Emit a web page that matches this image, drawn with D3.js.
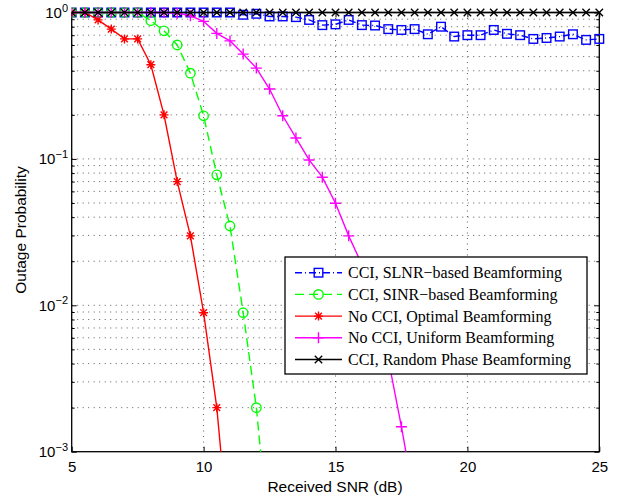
<!DOCTYPE html>
<html>
<head>
<meta charset="utf-8">
<script src="https://cdn.jsdelivr.net/npm/d3@7"></script>
<style>
  html, body { margin: 0; padding: 0; background: #fff; }
  svg { display: block; }
</style>
</head>
<body>
<svg id="chart" width="623" height="497"></svg>
<script>
// Received SNR grid (dB)
const snrAll = [5,5.5,6,6.5,7,7.5,8,8.5,9,9.5,10,10.5,11,11.5,12,12.5,13,13.5,14,14.5,15,
  15.5,16,16.5,17,17.5,18,18.5,19,19.5,20,20.5,21,21.5,22,22.5,23,23.5,24,24.5,25];

// CCI, SLNR-based beamforming
const slnr = [1,1,1,1,1,1,1,1,1,1,1,1,1,0.965,0.98,0.94,0.94,0.93,0.89,0.82,0.83,
  0.89,0.82,0.815,0.77,0.76,0.77,0.71,0.80,0.685,0.70,0.70,0.76,0.715,0.70,0.66,0.67,0.685,0.71,0.65,0.66];

// CCI, SINR-based beamforming
const sinrSnr = [5,5.5,6,6.5,7,7.5,8,8.5,9,9.5,10,10.5,11,11.5,12,12.5];
const sinr = [1,1,1,1,1,1,0.88,0.75,0.60,0.385,0.197,0.0778,0.0348,0.0089,0.0020,0.00023];

// No CCI, optimal beamforming
const optSnr = [5,5.5,6,6.5,7,7.5,8,8.5,9,9.5,10,10.5,11];
const optimal = [1,1,0.89,0.77,0.66,0.66,0.44,0.20,0.070,0.0298,0.0089,0.0020,0.00021];

// No CCI, uniform beamforming
const uniSnr = [5,5.5,6,6.5,7,7.5,8,8.5,9,9.5,10,10.5,11,11.5,12,12.5,13,13.5,14,14.5,15,15.5,16,16.5,17,17.5,18];
const uniform = [1,1,1,1,1,1,1,1,0.99,0.95,0.87,0.72,0.64,0.52,0.417,0.30,0.197,0.139,0.0984,0.075,
  0.0498,0.0298,0.019,0.0092,0.0043,0.00148,0.00046];

// CCI, random phase beamforming
const randomPhase = snrAll.map(() => 1);

const xTicks = [5,10,15,20,25];
const yTickExp = [0,-1,-2,-3];
const legendLabels = [
  "CCI, SLNR\u2212based Beamforming",
  "CCI, SINR\u2212based Beamforming",
  "No CCI, Optimal Beamforming",
  "No CCI, Uniform Beamforming",
  "CCI, Random Phase Beamforming"
];

const series = [
  {x: snrAll, y: slnr, color: "#0000ff", dash: "7,3,1,3", marker: "square", label: legendLabels[0]},
  {x: sinrSnr, y: sinr, color: "#00ff00", dash: "9,5", marker: "circle", label: legendLabels[1]},
  {x: optSnr, y: optimal, color: "#ff0000", dash: null, marker: "star", label: legendLabels[2]},
  {x: uniSnr, y: uniform, color: "#ff00ff", dash: null, marker: "plus", label: legendLabels[3]},
  {x: snrAll, y: randomPhase, color: "#000000", dash: null, marker: "cross", label: legendLabels[4]}
];

const sans = "Liberation Sans, Arial, Helvetica, sans-serif";
const serif = "Liberation Serif, Times New Roman, serif";

const svg = d3.select("#chart");
const L = 71.7, R = 599.3, T = 12.5, B = 451.7;

const x = d3.scaleLinear().domain([5, 25]).range([L, R]);
const y = d3.scaleLog().domain([1e-3, 1]).range([B, T]);

svg.append("defs").append("clipPath").attr("id", "plotClip")
  .append("rect").attr("x", L).attr("y", T - 6).attr("width", R - L + 6).attr("height", B - T + 6);

// dotted grid: every decade subdivision on y, major ticks on x
const grid = svg.append("g").attr("stroke", "#333").attr("stroke-width", 0.8)
  .attr("stroke-dasharray", "1,4.5").attr("fill", "none");
const yGridVals = [];
for (let e = -3; e < 0; e++) for (let m = 1; m <= 9; m++) {
  const v = m * Math.pow(10, e);
  if (v > 1e-3) yGridVals.push(v);
}
yGridVals.forEach(v => {
  grid.append("line").attr("x1", L).attr("x2", R).attr("y1", y(v)).attr("y2", y(v));
});
xTicks.slice(1, -1).forEach(v => {
  grid.append("line").attr("x1", x(v)).attr("x2", x(v)).attr("y1", T).attr("y2", B);
});

// axes (ticks inside, mirrored on opposite sides)
const axisG = svg.append("g");
const bottomAxis = axisG.append("g").attr("transform", `translate(0,${B})`)
  .call(d3.axisBottom(x).tickValues(xTicks).tickSizeInner(-5).tickSizeOuter(0).tickPadding(10));
axisG.append("g").attr("transform", `translate(0,${T})`)
  .call(d3.axisTop(x).tickValues(xTicks).tickSizeInner(-5).tickSizeOuter(0).tickFormat(""));
const minorY = yGridVals.filter(v => Math.abs(Math.log10(v) - Math.round(Math.log10(v))) > 1e-6);
const majorY = yTickExp.map(e => Math.pow(10, e));
axisG.append("g").attr("transform", `translate(${L},0)`)
  .call(d3.axisLeft(y).tickValues(majorY).tickSizeInner(-5).tickSizeOuter(0).tickFormat(""));
axisG.append("g").attr("transform", `translate(${L},0)`)
  .call(d3.axisLeft(y).tickValues(minorY).tickSizeInner(-3).tickSizeOuter(0).tickFormat(""));
axisG.append("g").attr("transform", `translate(${R},0)`)
  .call(d3.axisRight(y).tickValues(majorY).tickSizeInner(-5).tickSizeOuter(0).tickFormat(""));
axisG.append("g").attr("transform", `translate(${R},0)`)
  .call(d3.axisRight(y).tickValues(minorY).tickSizeInner(-3).tickSizeOuter(0).tickFormat(""));
axisG.selectAll(".domain").remove();
axisG.selectAll(".tick line").attr("stroke", "#000").attr("stroke-width", 1);
bottomAxis.selectAll(".tick text").attr("font-family", sans)
  .attr("font-size", 15).attr("fill", "#000");

// y tick labels as powers of ten
const yLab = svg.append("g").attr("font-family", sans).attr("fill", "#000");
yTickExp.forEach(e => {
  const t = yLab.append("text").attr("x", 68).attr("y", y(Math.pow(10, e)) + 5.5)
    .attr("text-anchor", "end").attr("font-size", 15);
  t.append("tspan").text("10");
  t.append("tspan").attr("dy", -6.5).attr("font-size", 11).text(e === 0 ? "0" : "\u2212" + (-e));
});

// frame
svg.append("rect").attr("x", L).attr("y", T).attr("width", R - L).attr("height", B - T)
  .attr("fill", "none").attr("stroke", "#000").attr("stroke-width", 1.3);

// marker shapes
function drawMarker(g, kind, cx, cy, color) {
  if (kind === "square") {
    g.append("rect").attr("x", cx - 4.3).attr("y", cy - 4.3).attr("width", 8.6).attr("height", 8.6)
      .attr("fill", "none").attr("stroke", color).attr("stroke-width", 1.4);
  } else if (kind === "circle") {
    g.append("circle").attr("cx", cx).attr("cy", cy).attr("r", 4.7)
      .attr("fill", "none").attr("stroke", color).attr("stroke-width", 1.4);
  } else {
    const p = d3.path();
    const s = kind === "plus" ? 5.5 : 4.5;
    if (kind === "plus" || kind === "star") {
      p.moveTo(cx - s, cy); p.lineTo(cx + s, cy);
      p.moveTo(cx, cy - s); p.lineTo(cx, cy + s);
    }
    if (kind === "cross" || kind === "star") {
      const d = kind === "star" ? s * 0.75 : 3.7;
      p.moveTo(cx - d, cy - d); p.lineTo(cx + d, cy + d);
      p.moveTo(cx - d, cy + d); p.lineTo(cx + d, cy - d);
    }
    g.append("path").attr("d", p.toString()).attr("fill", "none")
      .attr("stroke", color).attr("stroke-width", 1.4);
  }
}

// data series
const plot = svg.append("g").attr("clip-path", "url(#plotClip)");
const line = d3.line().x(d => x(d[0])).y(d => y(d[1]));
series.forEach(s => {
  const pts = s.x.map((v, i) => [v, s.y[i]]);
  const g = plot.append("g");
  g.append("path").datum(pts).attr("d", line).attr("fill", "none")
    .attr("stroke", s.color).attr("stroke-width", 1.4)
    .attr("stroke-dasharray", s.dash);
  pts.filter(d => d[1] >= 1e-3).forEach(d => drawMarker(g, s.marker, x(d[0]), y(d[1]), s.color));
});

// legend
const lg = svg.append("g");
lg.append("rect").attr("x", 285).attr("y", 257).attr("width", 302).attr("height", 117)
  .attr("fill", "#fff").attr("stroke", "#000").attr("stroke-width", 1.3);
series.forEach((s, i) => {
  const cy = 272.7 + i * 21.7;
  lg.append("line").attr("x1", 295).attr("x2", 342).attr("y1", cy).attr("y2", cy)
    .attr("stroke", s.color).attr("stroke-width", 1.4).attr("stroke-dasharray", s.dash);
  drawMarker(lg, s.marker, 318.5, cy, s.color);
  lg.append("text").attr("x", 348).attr("y", cy + 5.5)
    .attr("font-family", serif).attr("font-size", 16)
    .attr("fill", "#000").text(s.label);
});

// axis titles
svg.append("text").attr("x", 335).attr("y", 492).attr("text-anchor", "middle")
  .attr("font-family", sans).attr("font-size", 15.5).attr("fill", "#000")
  .text("Received SNR (dB)");
svg.append("text").attr("transform", "translate(26,230) rotate(-90)").attr("text-anchor", "middle")
  .attr("font-family", sans).attr("font-size", 15.5).attr("fill", "#000")
  .text("Outage Probability");
</script>
</body>
</html>
